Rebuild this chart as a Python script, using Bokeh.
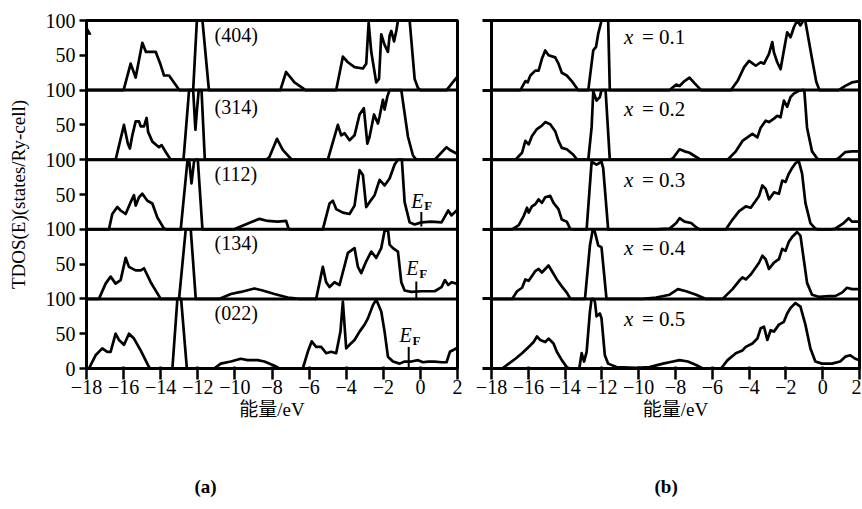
import numpy as np
from bokeh.plotting import figure
from bokeh.models import FixedTicker, Span, LinearAxis, Title
from bokeh.layouts import row
from bokeh.embed import file_html
from bokeh.resources import INLINE
from bokeh.core.properties import value

SERIF = "Liberation Serif"
CJK = "Liberation Serif, Noto Sans CJK SC"

# ---------------- data (E in eV, TDOS in states/Ry-cell) ----------------
tdos_404 = [(-18,0),(-16.0,0),(-15.62,38),(-15.35,18),(-14.99,68),(-14.8,55),(-14.27,55),(-14.0,36),
            (-13.82,21),(-13.55,21),(-13.0,0),(-12.25,0),(-12.05,105),(-11.95,140),(-11.75,105),(-11.4,0),
            (-7.55,0),(-7.24,26),(-6.79,11),(-6.34,3),(-6.2,0),(-4.54,0),(-4.18,48),(-3.91,40),(-3.55,33),
            (-3.1,31),(-2.92,38),(-2.79,97),(-2.65,55),(-2.38,11),(-2.23,16),(-2.11,80),(-1.93,65),(-1.75,55),
            (-1.66,78),(-1.57,85),(-1.42,70),(-1.3,85),(-1.21,100),(-0.9,130),(-0.58,100),(-0.31,16),
            (-0.13,3),(0.0,0),(1.41,0),(1.95,18),(2,18)]
tdos_314 = [(-18,0),(-16.43,0),(-15.98,50),(-15.77,23),(-15.66,16),(-15.53,35),(-15.35,55),(-15.17,55),
            (-15.08,48),(-14.9,48),(-14.76,60),(-14.68,40),(-14.45,26),(-14.09,18),(-13.95,21),(-13.73,11),
            (-13.46,0),(-12.77,0),(-12.47,100),(-12.35,130),(-12.25,100),(-12.13,43),(-12.05,70),(-11.95,110),
            (-11.8,110),(-11.62,0),(-8.3,0),(-8.14,4),(-7.73,30),(-7.42,14),(-6.97,1),(-6.9,0),(-4.99,0),
            (-4.45,50),(-4.27,35),(-4.09,38),(-3.82,28),(-3.55,35),(-3.28,65),(-3.05,74),(-2.86,23),(-2.74,33),
            (-2.5,65),(-2.29,52),(-2.2,62),(-2.02,86),(-1.93,72),(-1.78,91),(-1.66,100),(-1.35,130),(-1.03,100),
            (-0.67,33),(-0.4,6),(-0.22,0),(0.77,0),(1.41,18),(1.59,14),(1.95,9),(2,9)]
tdos_112 = [(-18,0),(-16.79,0),(-16.61,22),(-16.34,32),(-16.16,27),(-15.89,22),(-15.62,39),(-15.44,49),
            (-15.35,34),(-15.17,46),(-14.99,51),(-14.72,41),(-14.45,37),(-14.18,17),(-13.82,1),(-13.7,0),
            (-12.92,0),(-12.56,98),(-12.47,100),(-12.34,66),(-12.2,98),(-12.11,110),(-12.0,110),(-11.75,0),
            (-10.04,0),(-9.14,10),(-8.68,15),(-8.23,12),(-7.69,11),(-7.24,12),(-7.12,2),(-7.05,0),(-5.26,0),
            (-4.9,37),(-4.72,41),(-4.54,29),(-4.18,24),(-3.82,22),(-3.55,34),(-3.28,85),(-3.1,78),(-2.92,32),
            (-2.74,39),(-2.47,49),(-2.2,71),(-1.93,63),(-1.66,73),(-1.39,93),(-1.21,100),(-1.1,110),(-1.0,100),
            (-0.85,39),(-0.58,10),(-0.31,7),(0.05,10),(0.59,11),(1.14,10),(1.5,27),(1.68,20),(1.95,27),(2,27)]
tdos_134 = [(-18,0),(-17.33,0),(-16.97,22),(-16.7,32),(-16.43,22),(-16.16,27),(-15.89,59),(-15.71,46),
            (-15.35,41),(-15.08,41),(-14.9,44),(-14.54,24),(-14.0,0),(-13.01,0),(-12.65,100),(-12.5,130),
            (-12.38,100),(-12.11,0),(-10.85,0),(-10.22,7),(-9.68,10),(-8.95,15),(-8.5,12),(-7.87,7),(-7.15,2),
            (-6.52,0),(-5.62,0),(-5.26,46),(-5.08,24),(-4.9,17),(-4.63,24),(-4.36,20),(-3.91,66),(-3.55,73),
            (-3.37,46),(-3.19,37),(-2.92,54),(-2.65,68),(-2.38,59),(-2.11,73),(-1.93,98),(-1.75,100),(-1.66,78),
            (-1.48,73),(-1.21,68),(-1.03,24),(-0.85,12),(-0.49,10),(0.05,11),(0.77,11),(1.14,17),(1.32,27),
            (1.5,20),(1.68,24),(1.95,22),(2,22)]
tdos_022 = [(-18,0),(-17.87,0),(-17.51,19),(-17.15,29),(-16.88,24),(-16.7,24),(-16.43,50),(-16.25,41),
            (-15.98,34),(-15.71,50),(-15.44,43),(-15.08,26),(-14.63,2),(-14.55,0),(-13.37,0),(-13.1,100),
            (-13.0,130),(-12.9,100),(-12.59,0),(-11.12,0),(-10.76,7),(-10.22,10),(-9.68,14),(-9.32,12),
            (-8.77,12),(-8.41,10),(-7.87,4),(-7.6,0),(-6.34,0),(-6.07,24),(-5.86,39),(-5.62,31),(-5.35,31),
            (-5.08,22),(-4.81,24),(-4.54,22),(-4.31,53),(-4.18,96),(-4.0,29),(-3.82,34),(-3.55,41),(-3.28,53),
            (-3.01,63),(-2.83,72),(-2.56,91),(-2.38,99),(-2.11,82),(-1.93,53),(-1.75,17),(-1.48,10),(-1.12,7),
            (-0.85,10),(-0.49,10),(-0.13,12),(0.14,9),(0.41,10),(0.77,10),(1.14,9),(1.41,9),(1.59,24),
            (1.95,29),(2,29)]

tdos_x01 = [(-18,0),(-16.43,0),(-16.16,13),(-16.04,11),(-15.89,21),(-15.62,28),(-15.44,28),(-15.26,45),
            (-15.08,57),(-14.9,50),(-14.54,47),(-14.36,38),(-14.18,25),(-13.91,21),(-13.64,13),(-13.37,3),
            (-13.3,0),(-12.74,0),(-12.47,57),(-12.32,62),(-12.2,81),(-12.02,100),(-11.85,120),(-11.66,100),
            (-11.57,0),(-8.32,0),(-7.96,8),(-7.78,6),(-7.51,13),(-7.24,18),(-6.97,10),(-6.61,0),(-4.99,0),
            (-4.63,13),(-4.27,33),(-4.0,42),(-3.64,35),(-3.37,40),(-3.19,38),(-2.92,52),(-2.74,69),(-2.65,54),
            (-2.47,40),(-2.29,30),(-2.11,57),(-1.93,83),(-1.75,76),(-1.57,90),(-1.39,100),(-1.21,93),
            (-1.05,100),(-0.95,100),(-0.6,48),(-0.35,12),(-0.18,0),(0.86,0),(1.23,6),(1.59,11),(2,13)]
tdos_x02 = [(-18,0),(-16.7,0),(-16.34,10),(-16.16,27),(-15.98,22),(-15.8,34),(-15.53,44),(-15.26,49),
            (-15.08,54),(-14.81,51),(-14.54,41),(-14.36,27),(-14.18,17),(-13.91,15),(-13.55,7),(-13.37,1),
            (-13.3,0),(-12.74,0),(-12.56,46),(-12.47,98),(-12.29,85),(-12.11,90),(-12.02,100),(-11.9,115),
            (-11.8,100),(-11.57,0),(-8.3,0),(-8.14,2),(-7.78,15),(-7.51,12),(-7.24,10),(-6.7,1),(-6.6,0),
            (-5.17,0),(-4.72,12),(-4.36,27),(-4.09,32),(-3.82,37),(-3.55,32),(-3.37,46),(-3.1,56),(-2.92,54),
            (-2.65,59),(-2.47,63),(-2.29,61),(-2.11,85),(-1.93,76),(-1.75,90),(-1.57,95),(-1.3,99),(-1.12,100),
            (-1.0,102),(-0.85,46),(-0.58,12),(-0.31,2),(-0.2,0),(0.7,0),(0.86,2),(1.23,11),(1.59,12),(2,12)]
tdos_x03 = [(-18,0),(-16.88,0),(-16.52,6),(-16.25,19),(-16.07,31),(-15.98,24),(-15.8,33),(-15.62,36),
            (-15.44,43),(-15.26,38),(-15.08,46),(-14.81,48),(-14.63,38),(-14.36,29),(-14.18,14),(-13.91,11),
            (-13.73,1),(-13.65,0),(-12.83,0),(-12.56,97),(-12.29,93),(-12.02,97),(-11.93,88),(-11.66,0),
            (-9.05,0),(-8.32,1),(-7.96,9),(-7.78,16),(-7.51,11),(-7.15,9),(-6.88,3),(-6.7,0),(-5.26,0),
            (-4.9,14),(-4.54,26),(-4.18,33),(-3.91,31),(-3.64,41),(-3.46,48),(-3.28,63),(-3.1,58),(-2.92,43),
            (-2.65,53),(-2.38,51),(-2.2,70),(-2.02,68),(-1.84,80),(-1.66,88),(-1.48,95),(-1.3,98),(-1.12,80),
            (-0.94,38),(-0.67,9),(-0.4,1),(-0.3,0),(0.5,0),(0.68,1),(1.14,9),(1.41,16),(1.59,11),(2,11)]
tdos_x04 = [(-18,0),(-16.88,0),(-16.61,11),(-16.34,16),(-16.16,28),(-15.98,26),(-15.8,33),(-15.62,40),
            (-15.44,43),(-15.26,38),(-15.08,43),(-14.9,48),(-14.72,40),(-14.45,28),(-14.18,18),(-13.91,9),
            (-13.73,1),(-13.65,0),(-12.92,0),(-12.65,77),(-12.5,99),(-12.38,96),(-12.2,77),(-12.02,74),
            (-11.75,0),(-9.77,0),(-9.05,2),(-8.32,6),(-7.87,14),(-7.42,11),(-6.88,6),(-6.34,0),(-5.44,0),
            (-4.9,14),(-4.54,26),(-4.36,31),(-4.18,28),(-3.91,35),(-3.64,45),(-3.46,52),(-3.28,62),(-3.1,57),
            (-2.92,43),(-2.65,52),(-2.38,57),(-2.2,72),(-2.02,69),(-1.84,82),(-1.66,89),(-1.39,96),(-1.21,91),
            (-1.03,57),(-0.85,23),(-0.58,6),(-0.22,3),(0.32,4),(0.68,4),(1.05,9),(1.32,16),(1.59,14),(2,14)]
tdos_x05 = [(-18,0),(-17.42,0),(-17.06,7),(-16.7,14),(-16.34,22),(-15.98,31),(-15.71,38),(-15.53,46),
            (-15.35,41),(-15.08,38),(-14.9,43),(-14.63,36),(-14.45,24),(-14.18,12),(-13.91,2),(-13.77,0),
            (-13.23,0),(-13.1,22),(-12.97,10),(-12.83,24),(-12.65,82),(-12.56,100),(-12.47,110),(-12.38,96),
            (-12.29,75),(-12.11,79),(-12.02,72),(-11.84,19),(-11.66,7),(-11.21,2),(-10.13,1),(-9.41,2),
            (-8.68,7),(-8.14,10),(-7.78,12),(-7.33,10),(-6.88,5),(-6.52,0),(-5.53,0),(-5.17,12),(-4.72,22),
            (-4.36,26),(-4.18,31),(-3.82,36),(-3.55,43),(-3.37,58),(-3.19,60),(-3.01,41),(-2.83,55),(-2.65,53),
            (-2.38,63),(-2.11,67),(-1.93,79),(-1.75,87),(-1.48,94),(-1.21,89),(-0.94,63),(-0.67,29),(-0.4,10),
            (-0.04,7),(0.5,7),(0.95,10),(1.23,17),(1.5,19),(1.77,14),(2,12)]

labels_a = ["(404)", "(314)", "(112)", "(134)", "(022)"]
label_a_y = [79, 76, 79, 80, 80]
labels_b = ["0.1", "0.2", "0.3", "0.4", "0.5"]
label_b_y = [77, 73, 71, 73, 71]

# Fermi level markers in panels (112), (134), (022)
ef_panel = [2, 3, 4]
ef_x = [0.05, -0.22, -0.63]
ef_lo = [4, 0, 0]
ef_hi = [25, 25, 31]
ef_text_x = [-0.49, -0.76, -1.13]
ef_text_y = [41, 44, 48]

x_ticks = [-18, -16, -14, -12, -10, -8, -6, -4, -2, 0, 2]
x_tick_text = ["\u221218", "\u221216", "\u221214", "\u221212", "\u221210", "\u22128",
               "\u22126", "\u22124", "\u22122", "0", "2"]
y_ticks_a = [0, 50, 100, 150, 200, 250, 300, 350, 400, 450, 500]
y_tick_text_a = ["0", "50", "100", "50", "100", "50", "100", "50", "100", "50", "100"]
y_ticks_b = [0, 100, 200, 300, 400, 500]

PANEL = 100.0
N = 5


def base_fig(fw, left, right):
    p = figure(frame_width=fw, frame_height=348, x_range=(-18, 2), y_range=(0, N * PANEL),
               output_backend="svg", toolbar_location=None,
               min_border_left=left, min_border_right=right,
               min_border_top=20, min_border_bottom=0)
    p.grid.visible = False
    p.outline_line_color = "black"
    p.outline_line_width = 3
    p.background_fill_color = "white"
    p.border_fill_color = "white"
    xa = p.xaxis[0]
    xa.ticker = FixedTicker(ticks=x_ticks)
    xa.major_label_overrides = {t: s for t, s in zip(x_ticks, x_tick_text)}
    xa.major_label_text_font = SERIF
    xa.major_label_text_font_size = "20px"
    xa.major_label_text_color = "black"
    xa.major_label_standoff = 0
    xa.major_tick_out = 11
    xa.major_tick_in = 2
    xa.major_tick_line_width = 2.5
    xa.major_tick_line_color = "black"
    xa.minor_tick_line_color = None
    xa.axis_line_width = 3
    xa.axis_line_color = "black"
    xa.axis_label = "\u80fd\u91cf/eV"
    xa.axis_label_text_font = CJK
    xa.axis_label_text_font_size = "19px"
    xa.axis_label_text_font_style = "normal"
    xa.axis_label_text_color = "black"
    xa.axis_label_standoff = 2
    for k in range(1, N):
        p.add_layout(Span(location=k * PANEL, dimension="width", line_color="black", line_width=3))
    return p


def draw_panels(p, series):
    for k, data in enumerate(series):
        off = (N - 1 - k) * PANEL
        arr = np.array(data, dtype=float)
        p.line(arr[:, 0], np.minimum(arr[:, 1], PANEL) + off, line_color="black",
               line_width=2.7, line_join="round")


def caption(p, text, offset):
    # a blank, tick-less axis below the main one only reserves vertical room,
    # then the sub-figure caption is added as a title underneath it
    spacer = LinearAxis(ticker=FixedTicker(ticks=[]), axis_line_color=None,
                        major_tick_line_color=None, minor_tick_line_color=None,
                        major_tick_out=0, major_tick_in=0, major_label_standoff=0,
                        major_label_text_font_size="0px",
                        axis_label="\u00a0", axis_label_standoff=25,
                        axis_label_text_font=SERIF, axis_label_text_font_size="19px")
    p.add_layout(spacer, "below")
    p.add_layout(Title(text=text, align="left", offset=offset, standoff=4, text_color="black",
                       text_font=SERIF, text_font_size="19px", text_font_style="bold"), "below")


offs = [(N - 1 - k) * PANEL for k in range(N)]

# ---------------- (a) ----------------
pa = base_fig(371, 86, 10)
ya = pa.yaxis[0]
ya.ticker = FixedTicker(ticks=y_ticks_a)
ya.major_label_overrides = {t: s for t, s in zip(y_ticks_a, y_tick_text_a)}
ya.major_label_text_font = SERIF
ya.major_label_text_font_size = "20px"
ya.major_label_text_color = "black"
ya.major_label_standoff = 4
ya.major_tick_out = 7
ya.major_tick_in = 0
ya.major_tick_line_width = 2.5
ya.major_tick_line_color = "black"
ya.minor_tick_line_color = None
ya.axis_line_width = 3
ya.axis_line_color = "black"
ya.axis_label = "TDOS(E)(states/Ry-cell)"
ya.axis_label_text_font = SERIF
ya.axis_label_text_font_size = "19px"
ya.axis_label_text_font_style = "normal"
ya.axis_label_text_color = "black"
ya.axis_label_standoff = 14

draw_panels(pa, [tdos_404, tdos_314, tdos_112, tdos_134, tdos_022])

pa.text(x=[-11.1] * N, y=[v + o for v, o in zip(label_a_y, offs)], text=labels_a,
        text_font=value(SERIF), text_font_size="20px", text_baseline="middle", text_align="left",
        text_color="black")

ef_off = [offs[i] for i in ef_panel]
pa.segment(x0=ef_x, y0=[v + o for v, o in zip(ef_lo, ef_off)], x1=ef_x,
           y1=[v + o for v, o in zip(ef_hi, ef_off)], line_color="black", line_width=2)
pa.text(x=ef_text_x, y=[v + o for v, o in zip(ef_text_y, ef_off)], text=["E"] * 3,
        text_font=value(SERIF), text_font_style="italic", text_font_size="20px",
        text_baseline="middle", text_align="left", text_color="black")
pa.text(x=ef_text_x, y=[v + o for v, o in zip(ef_text_y, ef_off)], text=["F"] * 3,
        x_offset=13, y_offset=5, text_font=value(SERIF), text_font_style="bold",
        text_font_size="13px", text_baseline="middle", text_align="left", text_color="black")

pa.scatter(x=[-18], y=[offs[0] + 84], marker="triangle", size=9, color="black")
caption(pa, "(a)", 108)

# ---------------- (b) ----------------
pb = base_fig(368, 24, 2)
yb = pb.yaxis[0]
yb.ticker = FixedTicker(ticks=y_ticks_b)
yb.major_label_overrides = {t: "" for t in y_ticks_b}
yb.major_label_text_font_size = "1px"
yb.major_label_standoff = 0
yb.major_tick_out = 9
yb.major_tick_in = 0
yb.major_tick_line_width = 3
yb.major_tick_line_color = "black"
yb.minor_tick_line_color = None
yb.axis_line_width = 3
yb.axis_line_color = "black"

draw_panels(pb, [tdos_x01, tdos_x02, tdos_x03, tdos_x04, tdos_x05])

yb_lab = [v + o for v, o in zip(label_b_y, offs)]
eq_text = ["= " + s for s in labels_b]
pb.text(x=[-10.8] * N, y=yb_lab, text=["x"] * N, text_font=value(SERIF), text_font_style="italic",
        text_font_size="21px", text_baseline="middle", text_align="left", text_color="black")
pb.text(x=[-10.8] * N, y=yb_lab, text=eq_text, x_offset=18,
        text_font=value(SERIF), text_font_size="21px", text_baseline="middle", text_align="left",
        text_color="black")
caption(pb, "(b)", 163)

layout = row(pa, pb)
open("out.html", "w").write(file_html(layout, INLINE))
